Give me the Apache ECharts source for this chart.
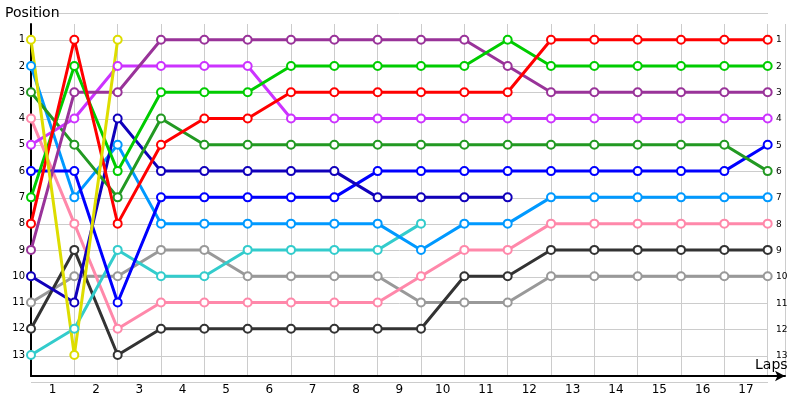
<!DOCTYPE html><html><head><meta charset="utf-8">
<script src="https://cdn.jsdelivr.net/npm/echarts@6/dist/echarts.min.js"></script>
<style>html,body{margin:0;padding:0}#c{width:800px;height:400px}</style></head><body><div id="c"></div>
<script>
const lapLabels = ['1','2','3','4','5','6','7','8','9','10','11','12','13','14','15','16','17'];
const yellow = [1,13,1];
const red = [8,1,8,5,4,4,3,3,3,3,3,3,1,1,1,1,1,1];
const green = [7,2,6,3,3,3,2,2,2,2,2,1,2,2,2,2,2,2];
const purple = [9,3,3,1,1,1,1,1,1,1,1,2,3,3,3,3,3,3];
const violet = [5,4,2,2,2,2,4,4,4,4,4,4,4,4,4,4,4,4];
const darkGreen = [3,5,7,4,5,5,5,5,5,5,5,5,5,5,5,5,5,6];
const navy = [10,11,4,6,6,6,6,6,7,7,7,7];
const blue = [6,6,11,7,7,7,7,7,6,6,6,6,6,6,6,6,6,5];
const lightBlue = [2,7,5,8,8,8,8,8,8,9,8,8,7,7,7,7,7,7];
const cyan = [13,12,9,10,10,9,9,9,9,8];
const gray = [11,10,10,9,9,10,10,10,10,11,11,11,10,10,10,10,10,10];
const pink = [4,8,12,11,11,11,11,11,11,10,9,9,8,8,8,8,8,8];
const black = [12,9,13,12,12,12,12,12,12,12,10,10,9,9,9,9,9,9];

const defs = [
 [gray,'#999999'],[pink,'#ff88aa'],[black,'#333333'],[cyan,'#33cccc'],[lightBlue,'#0099ff'],
 [blue,'#0000ff'],[navy,'#1100bb'],[darkGreen,'#229922'],[violet,'#cc33ff'],[purple,'#993399'],
 [green,'#00cc00'],[red,'#ff0000'],[yellow,'#dddd00']
];
const series = defs.map(([d,c]) => ({
  type:'line', xAxisIndex:0, yAxisIndex:0, data:d.map((v,i)=>[i,v]),
  symbol:'emptyCircle', symbolSize:8, lineStyle:{width:3,color:c},
  itemStyle:{color:c, borderWidth:1}, animation:false
}));
const chart = echarts.init(document.getElementById('c'));
chart.setOption({
  backgroundColor:'#fff',
  grid:[{left:31,right:15,top:24,bottom:24},{left:31,right:32,top:13.7,bottom:17.7}],
  xAxis:[
   {type:'value',gridIndex:0,min:0,max:17.4,interval:1,
    axisLine:{lineStyle:{color:'#000',width:2},symbol:['none','arrow'],symbolSize:[8,10]},
    axisTick:{show:false},splitLine:{show:true,lineStyle:{color:'#cccccc'}},
    axisLabel:{customValues:lapLabels.map((_,i)=>i+0.5),formatter:v=>String(Math.round(v+0.5)),color:'#000',fontSize:12,fontFamily:'DejaVu Sans'},
    name:'Laps',nameLocation:'end',nameGap:-30,nameTextStyle:{color:'#000',fontSize:14,verticalAlign:'bottom',padding:[0,0,4,0],fontFamily:'DejaVu Sans'}},
   {type:'value',gridIndex:1,min:0,max:17,show:false}
  ],
  yAxis:[
   {type:'value',gridIndex:0,inverse:true,min:0.4,max:13.8,
    axisLine:{show:true,lineStyle:{color:'#000',width:2}},axisTick:{show:false},splitLine:{show:false},
    axisLabel:{customValues:[1,2,3,4,5,6,7,8,9,10,11,12,13],color:'#000',fontSize:10,margin:6,fontFamily:'DejaVu Sans'},
    name:'Position',nameLocation:'start',nameGap:4,nameTextStyle:{color:'#000',fontSize:14,align:'left',padding:[0,0,0,-26],fontFamily:'DejaVu Sans'}},
   {type:'value',gridIndex:1,inverse:true,min:0,max:14,interval:1,
    axisLine:{show:false},axisTick:{show:false},splitLine:{show:true,lineStyle:{color:'#cccccc'}},
    axisLabel:{show:false}},
   {type:'value',gridIndex:1,inverse:true,min:0,max:14,interval:1,position:'right',
    axisLine:{show:false},axisTick:{show:false},splitLine:{show:false},
    axisLabel:{color:'#000',fontSize:9,margin:8,formatter:v=>(v>=1&&v<=13)?String(v):'',fontFamily:'DejaVu Sans'}}
  ],
  series:series
});
</script></body></html>
